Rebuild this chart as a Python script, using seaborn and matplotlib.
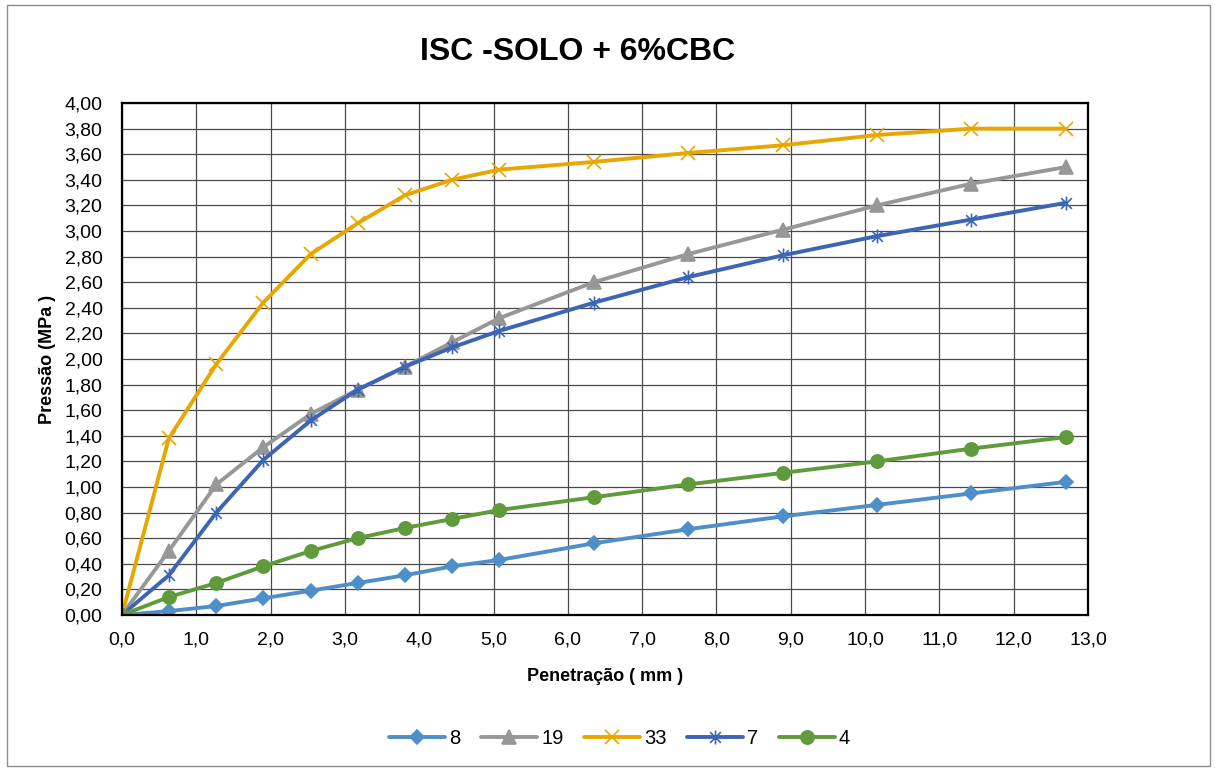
import seaborn as sns
import numpy as np
import matplotlib.pyplot as plt
import matplotlib as mpl
from matplotlib.path import Path
from matplotlib.ticker import MultipleLocator, FuncFormatter

# penetração (mm)
penetracao = [0.0, 0.63, 1.27, 1.90, 2.54, 3.17, 3.81, 4.44, 5.08, 6.35, 7.62, 8.89, 10.16, 11.43, 12.70]

# pressão (MPa) por golpes
s8 = [0.0, 0.03, 0.07, 0.13, 0.19, 0.25, 0.31, 0.38, 0.43, 0.56, 0.67, 0.77, 0.86, 0.95, 1.04]
s19 = [0.0, 0.50, 1.02, 1.31, 1.57, 1.76, 1.94, 2.13, 2.32, 2.60, 2.82, 3.01, 3.20, 3.37, 3.50]
s33 = [0.0, 1.38, 1.96, 2.44, 2.82, 3.06, 3.28, 3.40, 3.48, 3.54, 3.61, 3.67, 3.75, 3.80, 3.80]
s7 = [0.0, 0.31, 0.80, 1.21, 1.52, 1.76, 1.94, 2.09, 2.22, 2.44, 2.64, 2.81, 2.96, 3.09, 3.22]
s4 = [0.0, 0.14, 0.25, 0.38, 0.50, 0.60, 0.68, 0.75, 0.82, 0.92, 1.02, 1.11, 1.20, 1.30, 1.39]

labels = ['8', '19', '33', '7', '4']


def virgula(decimais):
    return FuncFormatter(lambda v, p: f'{v:.{decimais}f}'.replace('.', ','))


# asterisco estilo Excel: X com traço vertical
asterisco = Path([(-1, -1), (1, 1), (-1, 1), (1, -1), (0, -1.3), (0, 1.3)],
                 [Path.MOVETO, Path.LINETO, Path.MOVETO, Path.LINETO, Path.MOVETO, Path.LINETO])

sns.set_style('white')
plt.rcParams['font.family'] = ['Liberation Sans', 'DejaVu Sans']
plt.rcParams['text.color'] = 'black'
plt.rcParams['axes.labelcolor'] = 'black'
plt.rcParams['xtick.color'] = 'black'
plt.rcParams['ytick.color'] = 'black'

fig = plt.figure(figsize=(12.15, 7.69), dpi=100)
ax = fig.add_axes([0.1004, 0.2003, 0.7951, 0.6657])

estilos = [
    (s8, '#4F8FC9', 'D', 7),
    (s19, '#979797', '^', 9.5),
    (s33, '#E8A700', 'x', 9.5),
    (s7, '#3D65B5', asterisco, 10),
    (s4, '#5F9B3A', 'o', 9.5),
]

for (vals, cor, mk, ms), lab in zip(estilos, labels):
    sns.lineplot(x=penetracao, y=vals, ax=ax, color=cor, marker=mk, markersize=ms,
                 markeredgecolor=cor, markeredgewidth=1.2, linewidth=2.8, label=lab)

ax.set_xlim(0, 13)
ax.set_ylim(0, 4)
ax.xaxis.set_major_locator(MultipleLocator(1.0))
ax.xaxis.set_minor_locator(MultipleLocator(0.2))
ax.yaxis.set_major_locator(MultipleLocator(0.2))
ax.yaxis.set_minor_locator(MultipleLocator(0.04))
ax.xaxis.set_major_formatter(virgula(1))
ax.yaxis.set_major_formatter(virgula(2))

ax.grid(True, which='major', color='#4a4a4a', linewidth=0.9)
ax.set_axisbelow(True)
for sp in ax.spines.values():
    sp.set_color('black')
    sp.set_linewidth(1.6)

ax.tick_params(axis='both', which='major', labelsize=14, length=0, direction='out')
ax.tick_params(axis='both', which='minor', length=4, direction='in', color='#777777')
ax.tick_params(axis='y', which='major', pad=14)
ax.tick_params(axis='x', which='major', pad=12)

ax.set_xlabel('Penetração ( mm )', fontsize=13, fontweight='bold', labelpad=14)
ax.set_ylabel('Pressão (MPa )', fontsize=13, fontweight='bold', labelpad=6)
fig.suptitle('ISC -SOLO + 6%CBC', fontsize=23, fontweight='bold', x=0.475, y=0.952)

leg = ax.legend(loc='center', bbox_to_anchor=(0.51, 0.04), bbox_transform=fig.transFigure,
                ncol=5, frameon=False, fontsize=14.5, handlelength=2.8, columnspacing=1.0,
                handletextpad=0.2)

fig.patches.append(mpl.patches.Rectangle((0.006, 0.004), 0.99, 0.99, transform=fig.transFigure,
                                         fill=False, edgecolor='#8c8c8c', linewidth=1.0))

fig.savefig('out.png', dpi=100)
